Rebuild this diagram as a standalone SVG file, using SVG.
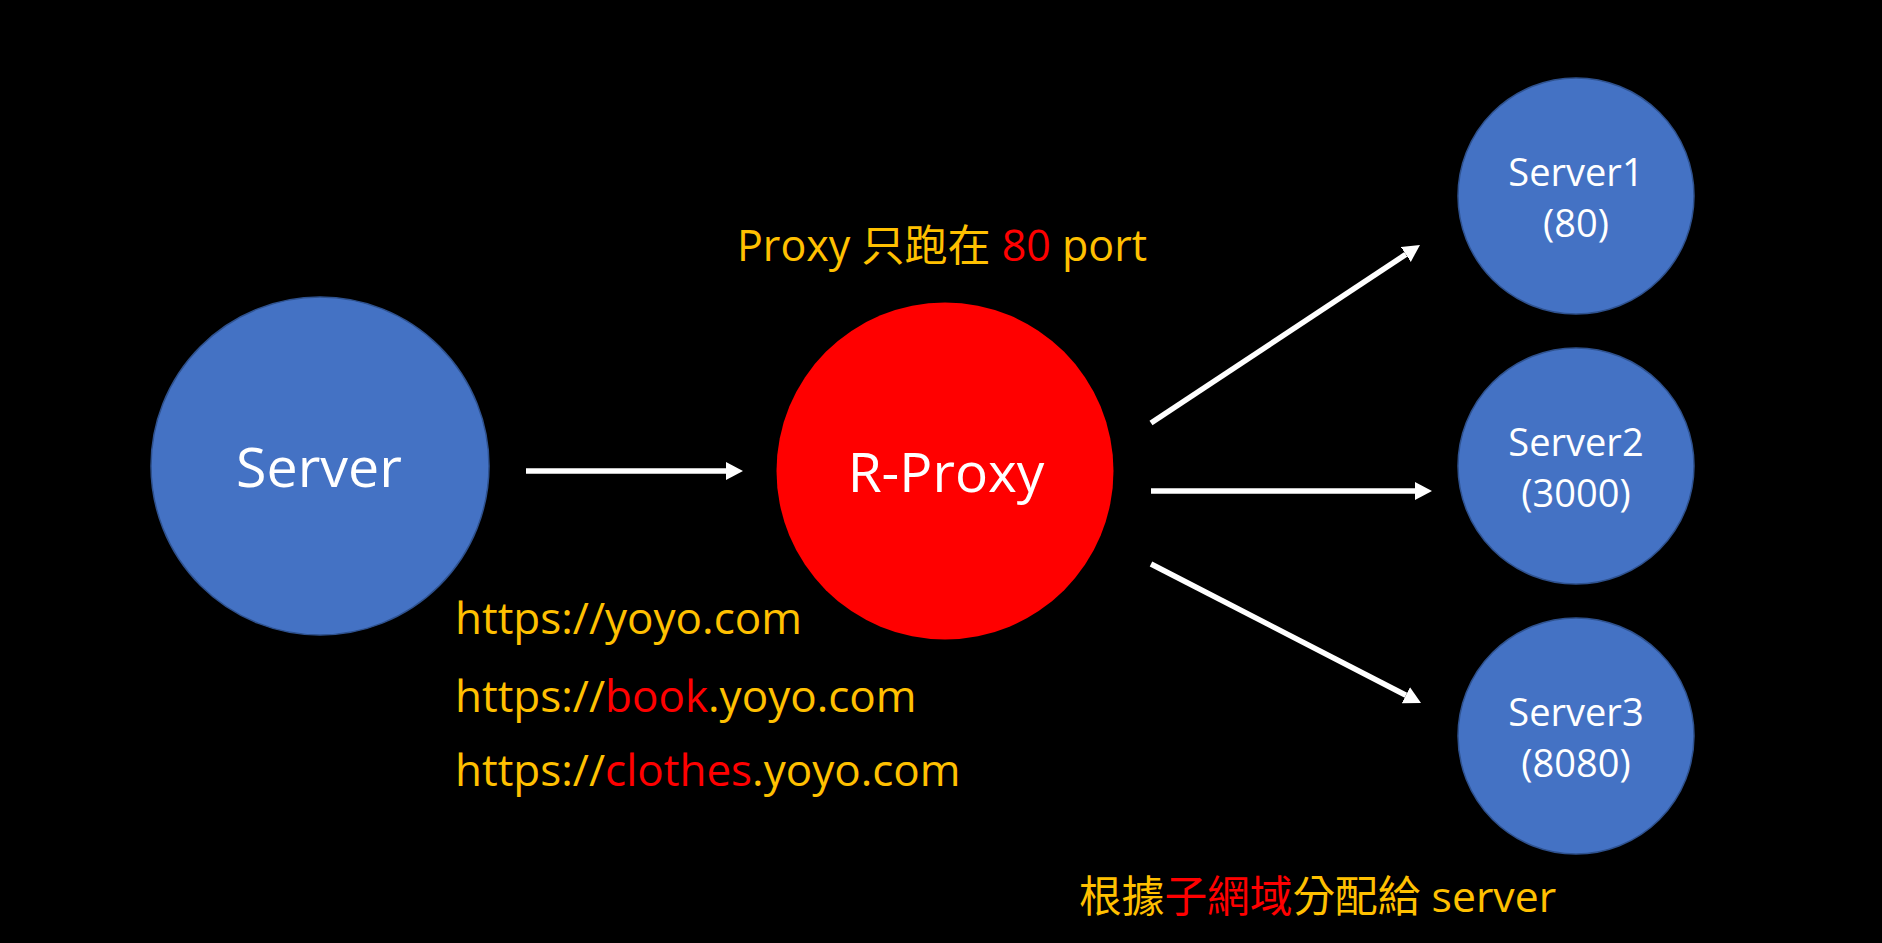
<svg xmlns="http://www.w3.org/2000/svg" width="1882" height="943" viewBox="0 0 1882 943">
<defs>
<style>
.t{font-family:"Open Sans","Noto Sans CJK TC","Noto Sans",sans-serif;}
.w{fill:#FFFFFF;}
.g{fill:#FFC000;}
.r{fill:#FF0000;}
.blue{fill:#4472C4;stroke:#2F528F;stroke-width:1.5;}
.conn{stroke:#FFFFFF;stroke-width:5.5;fill:none;marker-end:url(#ah);}
</style>
<marker id="ah" markerUnits="userSpaceOnUse" markerWidth="20" markerHeight="20" refX="0" refY="9" orient="auto" viewBox="0 0 20 20">
<path d="M0,0 L17,9 L0,18 z" fill="#FFFFFF"/>
</marker>
</defs>
<rect x="0" y="0" width="1882" height="943" fill="#000000"/>

<g id="server">
<circle class="blue" cx="320" cy="466" r="169"/>
<text class="t w" x="319" y="487" font-size="55.5" text-anchor="middle">Server</text>
</g>

<g id="rproxy">
<circle cx="945" cy="471" r="168.5" fill="#FF0000"/>
<text class="t w" x="946" y="492" font-size="55" text-anchor="middle">R-Proxy</text>
</g>

<g id="server1">
<circle class="blue" cx="1576" cy="196" r="118"/>
<text class="t w" x="1576" y="186" font-size="38" text-anchor="middle">Server1</text>
<text class="t w" x="1576" y="237" font-size="38" text-anchor="middle">(80)</text>
</g>

<g id="server2">
<circle class="blue" cx="1576" cy="466" r="118"/>
<text class="t w" x="1576" y="456" font-size="38" text-anchor="middle">Server2</text>
<text class="t w" x="1576" y="507" font-size="38" text-anchor="middle">(3000)</text>
</g>

<g id="server3">
<circle class="blue" cx="1576" cy="736" r="118"/>
<text class="t w" x="1576" y="726" font-size="38" text-anchor="middle">Server3</text>
<text class="t w" x="1576" y="777" font-size="38" text-anchor="middle">(8080)</text>
</g>

<g id="connectors">
<line class="conn" x1="526" y1="471" x2="726" y2="471"/>
<line class="conn" x1="1151" y1="423" x2="1405.8" y2="254.4"/>
<line class="conn" x1="1151" y1="491" x2="1415" y2="491"/>
<line class="conn" x1="1151" y1="564" x2="1405.9" y2="695.2"/>
</g>

<g id="label-port">
<text class="t g" x="737" y="261" font-size="43">Proxy 只跑在 <tspan class="r">80</tspan> port</text>
</g>

<g id="label-urls">
<text class="t g" x="455" y="634" font-size="44">https://yoyo.com</text>
<text class="t g" x="455" y="712" font-size="44">https://<tspan class="r">book</tspan>.yoyo.com</text>
<text class="t g" x="455" y="786" font-size="44">https://<tspan class="r">clothes</tspan>.yoyo.com</text>
</g>

<g id="label-subdomain">
<text class="t g" x="1079" y="912" font-size="42.7">根據<tspan class="r">子網域</tspan>分配給 server</text>
</g>
</svg>
